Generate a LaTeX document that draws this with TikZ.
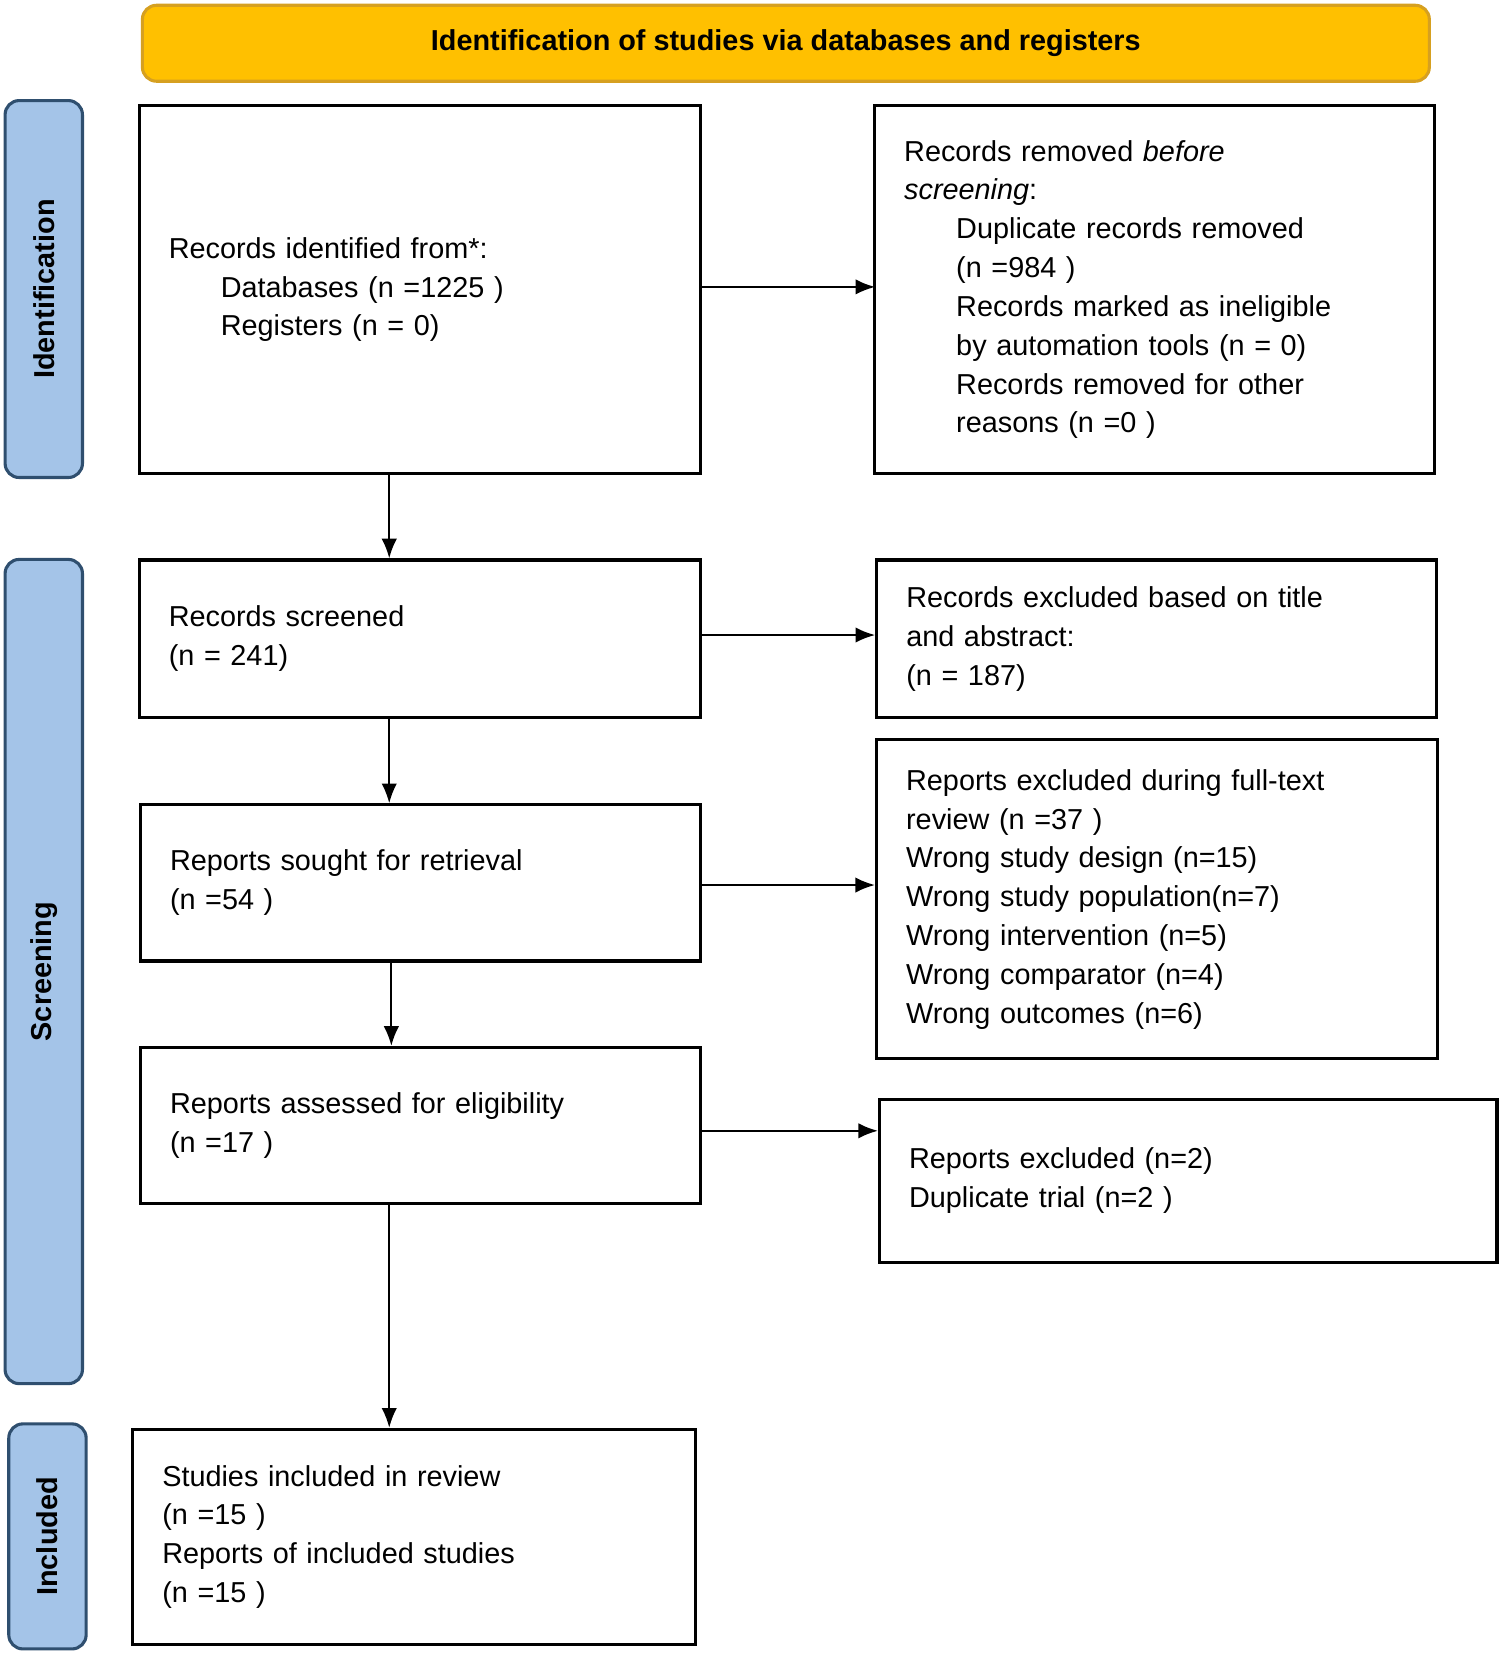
\documentclass[tikz,border=0pt]{standalone}
\usepackage{fontspec}
\setmainfont{Liberation Sans}
\usetikzlibrary{arrows.meta}
\definecolor{titlefill}{HTML}{FFC000}
\definecolor{titledraw}{HTML}{D6A020}
\definecolor{sidefill}{HTML}{A4C4E8}
\definecolor{sidedraw}{HTML}{2F4F6F}
\newcommand{\ind}{\hspace*{37pt}}
\begin{document}
\begin{tikzpicture}[x=0.75pt,y=-0.75pt,
    box/.style={draw=black, line width=2.2pt, inner sep=0pt, align=left,
      font=\fontsize{20.5}{27.6}\selectfont},
    side/.style={draw=sidedraw, fill=sidefill, line width=2.2pt, rounded corners=10pt,
      inner sep=0pt, rotate=90, font=\bfseries\fontsize{20.5}{24}\selectfont},
    arr/.style={-{Latex[length=14pt,width=11pt]}, line width=1.6pt}
]
    \useasboundingbox (0,0) rectangle (1422,1568);
    % title and side bars
    \node[draw=titledraw, fill=titlefill, line width=2.2pt, rounded corners=10pt,
      minimum width=915pt, minimum height=54pt, inner sep=0pt,
      font=\bfseries\fontsize{20.5}{24}\selectfont] (title) at (745,41)
      {Identification of studies via databases and registers};
    \node[side, minimum width=268pt, minimum height=55pt] (sid) at (41.5,274) {Identification};
    \node[side, minimum width=586pt, minimum height=55pt] (sscr) at (41.5,921) {Screening};
    \node[side, minimum width=160pt, minimum height=55pt] (sinc) at (45,1456.5) {Included};

    % boxes
    \node[box, minimum width=399pt, minimum height=262pt, text width=357pt] (ident) at (398,274.5)
      {Records identified from*:\\ \ind Databases (n =1225 )\\ \ind Registers (n = 0)};
    \node[box, minimum width=398pt, minimum height=262pt, text width=356pt] (removed) at (1094.5,274.5)
      {Records removed \textit{before}\\ \textit{screening}:\\ \ind Duplicate records removed\\ \ind (n =984 )\\
       \ind Records marked as ineligible\\ \ind by automation tools (n = 0)\\ \ind Records removed for other\\ \ind reasons (n =0 )};
    \node[box, minimum width=399pt, minimum height=112pt, text width=357pt] (screened) at (398,605.5)
      {Records screened\\(n = 241)};
    \node[box, minimum width=398pt, minimum height=112pt, text width=356pt] (excl1) at (1096.5,605.5)
      {Records excluded based on title\\and abstract:\\(n = 187)};
    \node[box, minimum width=398pt, minimum height=111pt, text width=356pt] (sought) at (398.5,837)
      {Reports sought for retrieval\\(n =54 )};
    \node[box, minimum width=399pt, minimum height=227pt, text width=357pt] (excl2) at (1097,852.5)
      {Reports excluded during full-text\\review (n =37 )\\Wrong study design (n=15)\\Wrong study population(n=7)\\
       Wrong intervention (n=5)\\Wrong comparator (n=4)\\Wrong outcomes (n=6)};
    \node[box, minimum width=398pt, minimum height=111pt, text width=356pt] (assessed) at (398.5,1067)
      {Reports assessed for eligibility\\(n =17 )};
    \node[box, minimum width=439pt, minimum height=116pt, text width=397pt] (excl3) at (1126.5,1119.5)
      {Reports excluded (n=2)\\Duplicate trial (n=2 )};
    \node[box, minimum width=400pt, minimum height=153pt, text width=358pt] (incl) at (392.5,1457)
      {Studies included in review\\(n =15 )\\Reports of included studies\\(n =15 )};

    % connectors
    \draw[arr] (ident.east |- 0,272) -- (excl1.west |- 0,272);
    \draw[arr] (screened.east |- 0,602) -- (excl1.west |- 0,602);
    \draw[arr] (sought.east |- 0,839) -- (excl2.west |- 0,839);
    \draw[arr] (assessed.east |- 0,1072) -- (excl3.west |- 0,1072);
    \draw[arr] (ident.south -| 369,0) -- (screened.north -| 369,0);
    \draw[arr] (screened.south -| 369,0) -- (sought.north -| 369,0);
    \draw[arr] (sought.south -| 371,0) -- (assessed.north -| 371,0);
    \draw[arr] (assessed.south -| 369,0) -- (incl.north -| 369,0);
\end{tikzpicture}
\end{document}
